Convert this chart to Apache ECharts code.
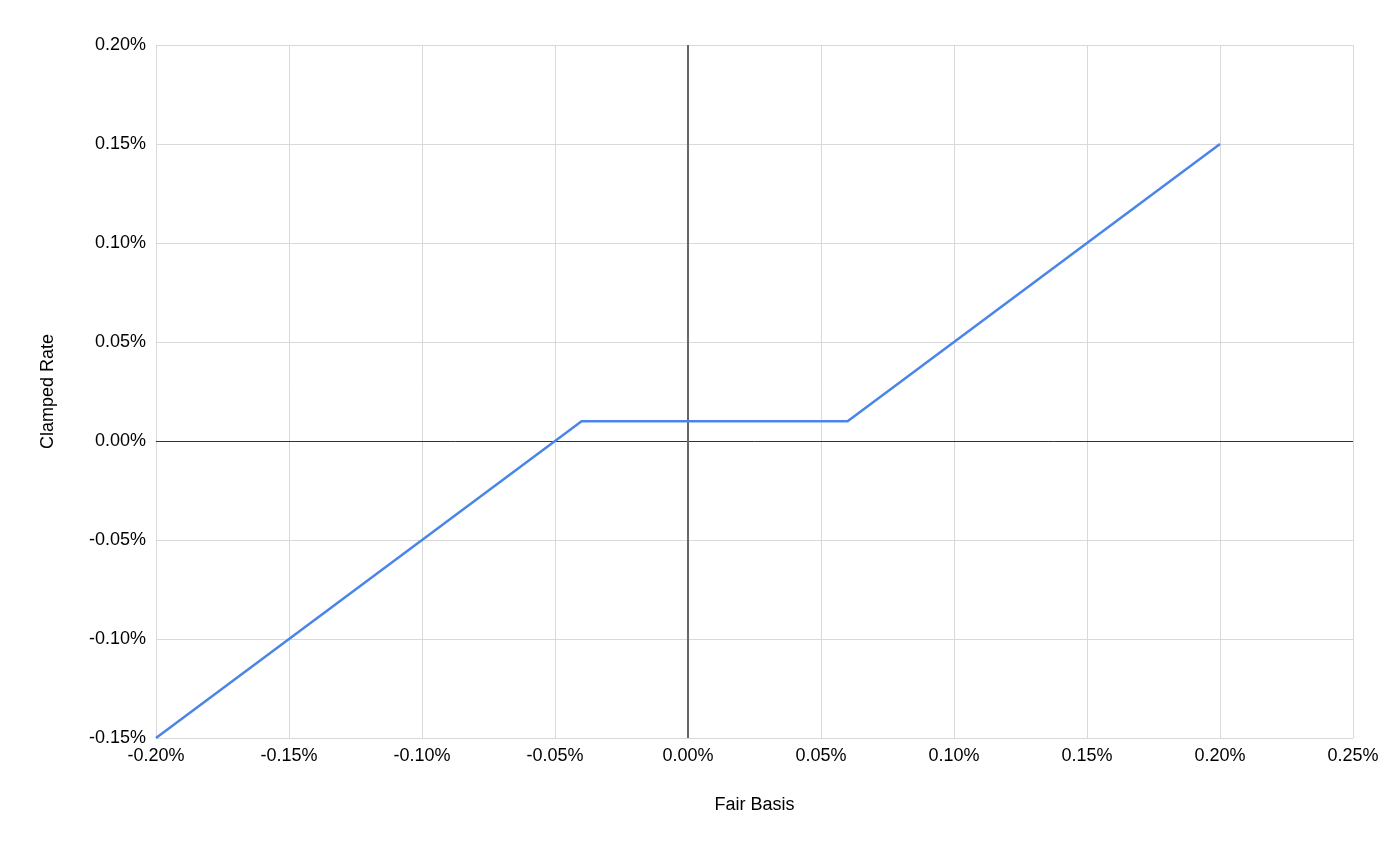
<!DOCTYPE html>
<html>
<head>
<meta charset="utf-8">
<script src="https://cdn.jsdelivr.net/npm/echarts@6/dist/echarts.min.js"></script>
<style>html,body{margin:0;padding:0;background:#fff;}#c{width:1392px;height:852px;}</style>
</head>
<body>
<div id="c"></div>
<script>
// Fair Basis (%) and Clamped Rate (%)
const fairBasis = [-0.20, -0.04, 0.06, 0.20];
const clampedRate = [-0.15, 0.01, 0.01, 0.15];
const xTicks = { min: -0.20, max: 0.25, interval: 0.05 };
const yTicks = { min: -0.15, max: 0.20, interval: 0.05 };

const chart = echarts.init(document.getElementById('c'));
const fmt = v => v.toFixed(2) + '%';
const font = 'Liberation Sans, Arial, sans-serif';
chart.setOption({
  animation: false,
  grid: { left: 156, right: 39, top: 45, bottom: 114 },
  xAxis: {
    type: 'value', min: xTicks.min, max: xTicks.max, interval: xTicks.interval,
    name: 'Fair Basis', nameLocation: 'middle', nameGap: 58,
    nameTextStyle: { fontFamily: font, fontSize: 18, color: '#000' },
    axisLine: { show: false }, axisTick: { show: false },
    axisLabel: { formatter: fmt, fontFamily: font, fontSize: 18, color: '#000', margin: 9 },
    splitLine: { show: true, lineStyle: { color: '#d9d9d9', width: 1 } }
  },
  yAxis: {
    type: 'value', min: yTicks.min, max: yTicks.max, interval: yTicks.interval,
    name: 'Clamped Rate', nameLocation: 'middle', nameGap: 99,
    nameTextStyle: { fontFamily: font, fontSize: 18, color: '#000' },
    axisLine: { show: false }, axisTick: { show: false },
    axisLabel: { formatter: fmt, fontFamily: font, fontSize: 18, color: '#000', margin: 10 },
    splitLine: { show: true, lineStyle: { color: '#d9d9d9', width: 1 } }
  },
  series: [{
    type: 'line',
    data: fairBasis.map((x, i) => [x, clampedRate[i]]),
    showSymbol: false, symbol: 'none',
    lineStyle: { color: '#4a86e8', width: 2.5 },
    z: 5,
    markLine: {
      silent: true, symbol: 'none', label: { show: false }, animation: false,
      data: [
        { yAxis: 0, lineStyle: { color: '#333', width: 1, type: 'solid' } },
        { xAxis: 0, lineStyle: { color: '#666', width: 2, type: 'solid' } }
      ],
      z: 1
    }
  }]
});
</script>
</body>
</html>
